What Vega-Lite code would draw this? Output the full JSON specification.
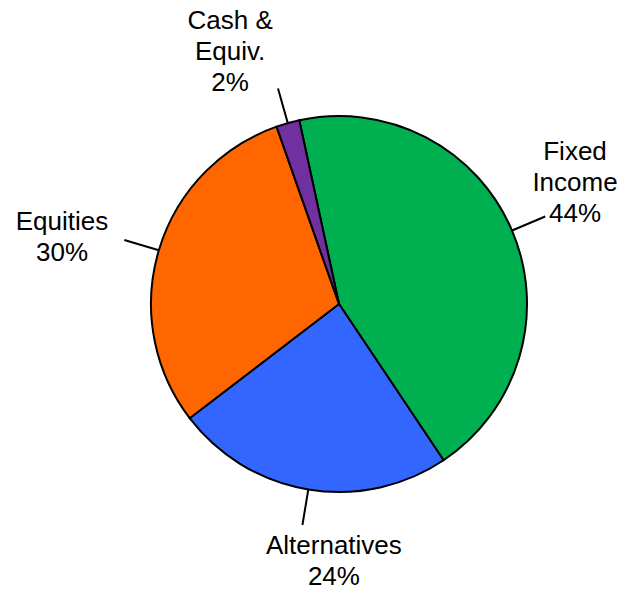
{
  "$schema": "https://vega.github.io/schema/vega-lite/v6.json",
  "width": 572,
  "height": 572,
  "padding": {"left": 53, "top": 18, "right": 0, "bottom": 0},
  "autosize": "none",
  "background": "white",
  "config": {"view": {"stroke": null}, "text": {"font": "Liberation Sans", "fontSize": 26, "lineBreak": "\n", "lineHeight": 31, "align": "center", "baseline": "middle", "color": "black"}},
  "data": {
    "values": [
      {"category": "Fixed Income", "label": "Fixed\nIncome", "value": 44, "rank": 1},
      {"category": "Alternatives", "label": "Alternatives", "value": 24, "rank": 2},
      {"category": "Equities", "label": "Equities", "value": 30, "rank": 3},
      {"category": "Cash & Equiv.", "label": "Cash &\nEquiv.", "value": 2, "rank": 4}
    ]
  },
  "transform": [
    {"window": [{"op": "sum", "field": "value", "as": "cum"}], "sort": [{"field": "rank"}], "frame": [null, 0]},
    {"calculate": "datum.cum - datum.value / 2", "as": "mid"},
    {"calculate": "datum.label + '\\n' + datum.value + '%'", "as": "text"}
  ],
  "layer": [
    {
      "mark": {"type": "arc", "outerRadius": 188, "stroke": "black", "strokeWidth": 2},
      "encoding": {
        "theta": {"field": "value", "type": "quantitative", "stack": true, "scale": {"domain": [0, 100], "range": [-0.213, 6.0702]}},
        "color": {
          "field": "category", "type": "nominal",
          "scale": {"domain": ["Fixed Income", "Alternatives", "Equities", "Cash & Equiv."], "range": ["#00B050", "#3366FF", "#FF6600", "#7030A0"]},
          "legend": null
        },
        "order": {"field": "rank", "type": "quantitative"}
      }
    },
    {
      "mark": {"type": "arc", "radius": 188, "radius2": 224, "stroke": "black", "strokeWidth": 2, "fill": null},
      "encoding": {
        "theta": {"field": "mid", "type": "quantitative", "stack": null},
        "theta2": {"field": "mid"}
      }
    },
    {
      "transform": [{"filter": "datum.category === 'Fixed Income'"}],
      "mark": {"type": "text", "radius": 264, "dx": -7, "dy": -49},
      "encoding": {
        "theta": {"field": "mid", "type": "quantitative", "stack": null},
        "text": {"field": "text", "type": "nominal"}
      }
    },
    {
      "transform": [{"filter": "datum.category === 'Alternatives'"}],
      "mark": {"type": "text", "radius": 264, "dx": 38, "dy": -18},
      "encoding": {
        "theta": {"field": "mid", "type": "quantitative", "stack": null},
        "text": {"field": "text", "type": "nominal"}
      }
    },
    {
      "transform": [{"filter": "datum.category === 'Equities'"}],
      "mark": {"type": "text", "radius": 264, "dx": -24, "dy": -7},
      "encoding": {
        "theta": {"field": "mid", "type": "quantitative", "stack": null},
        "text": {"field": "text", "type": "nominal"}
      }
    },
    {
      "transform": [{"filter": "datum.category === 'Cash & Equiv.'"}],
      "mark": {"type": "text", "radius": 264, "dx": -37, "dy": -29},
      "encoding": {
        "theta": {"field": "mid", "type": "quantitative", "stack": null},
        "text": {"field": "text", "type": "nominal"}
      }
    }
  ]
}
